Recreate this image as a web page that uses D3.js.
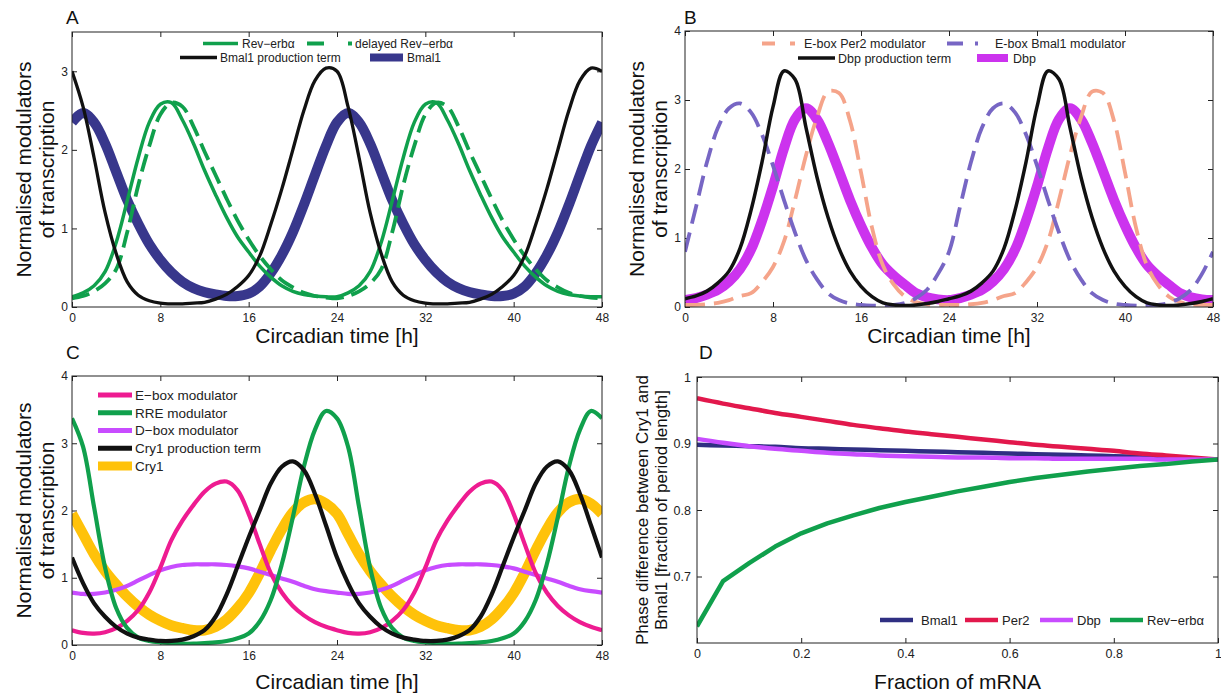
<!DOCTYPE html>
<html><head><meta charset="utf-8">
<script src="https://cdn.jsdelivr.net/npm/d3@7"></script>
<style>
body{margin:0;background:#fff}
svg{display:block}
text{font-family:"Liberation Sans",Arial,Helvetica,sans-serif}
</style>
</head><body>
<svg id="chart" width="1221" height="695"></svg>
<script>
// ---------------- DATA ----------------
const hours = [0,1,2,3,4,5,6,7,8,9,10,11,12,13,14,15,16,17,18,19,20,21,22,23,24,25,26,27,28,29,30,31,32,33,34,35,36,37,38,39,40,41,42,43,44,45,46,47,48];
const timeTicks = [0,8,16,24,32,40,48];
const yTicksA = [0,1,2,3];
const yTicksBC = [0,1,2,3,4];

// Panel A
const aRevErba = [0.13,0.18,0.27,0.45,0.82,1.35,1.9,2.35,2.58,2.6,2.38,2.08,1.74,1.43,1.14,0.89,0.7,0.52,0.38,0.27,0.2,0.16,0.14,0.13,
                  0.13,0.18,0.27,0.45,0.82,1.35,1.9,2.35,2.58,2.6,2.38,2.08,1.74,1.43,1.14,0.89,0.7,0.52,0.38,0.27,0.2,0.16,0.14,0.13,0.13];
const aDelayedRevErba = [0.11,0.14,0.2,0.3,0.48,0.95,1.55,2.05,2.45,2.6,2.55,2.3,1.98,1.68,1.38,1.1,0.86,0.65,0.48,0.34,0.25,0.18,0.14,0.12,
                  0.11,0.14,0.2,0.3,0.48,0.95,1.55,2.05,2.45,2.6,2.55,2.3,1.98,1.68,1.38,1.1,0.86,0.65,0.48,0.34,0.25,0.18,0.14,0.12,0.11];
const aBmal1Production = [3.0,2.55,1.9,1.2,0.68,0.32,0.15,0.08,0.05,0.04,0.04,0.05,0.06,0.1,0.16,0.26,0.4,0.65,1.05,1.5,2.0,2.5,2.88,3.04,
                  3.0,2.55,1.9,1.2,0.68,0.32,0.15,0.08,0.05,0.04,0.04,0.05,0.06,0.1,0.16,0.26,0.4,0.65,1.05,1.5,2.0,2.5,2.88,3.04,3.0];
const aBmal1 = [2.35,2.47,2.35,2.08,1.72,1.36,1.06,0.8,0.6,0.44,0.32,0.24,0.19,0.16,0.14,0.14,0.17,0.26,0.43,0.66,0.95,1.3,1.68,2.05,
                  2.35,2.47,2.35,2.08,1.72,1.36,1.06,0.8,0.6,0.44,0.32,0.24,0.19,0.16,0.14,0.14,0.17,0.26,0.43,0.66,0.95,1.3,1.68,2.05,2.35];

// Panel B
const bPer2Mod = [0.03,0.03,0.04,0.06,0.1,0.16,0.2,0.36,0.58,0.95,1.55,2.2,2.75,3.12,3.1,2.7,1.95,1.15,0.6,0.32,0.15,0.07,0.04,0.03,
                  0.03,0.03,0.04,0.06,0.1,0.16,0.2,0.36,0.58,0.95,1.55,2.2,2.75,3.12,3.1,2.7,1.95,1.15,0.6,0.32,0.15,0.07,0.04,0.03,0.03];
const bBmal1Mod = [0.8,1.45,2.1,2.6,2.88,2.95,2.82,2.5,2.05,1.55,1.08,0.68,0.4,0.2,0.1,0.05,0.03,0.02,0.02,0.03,0.06,0.13,0.25,0.48,
                  0.8,1.45,2.1,2.6,2.88,2.95,2.82,2.5,2.05,1.55,1.08,0.68,0.4,0.2,0.1,0.05,0.03,0.02,0.02,0.03,0.06,0.13,0.25,0.48,0.8];
const bDbpProduction = [0.12,0.16,0.23,0.35,0.52,0.85,1.4,2.1,2.9,3.42,3.3,2.6,1.88,1.3,0.85,0.52,0.3,0.15,0.06,0.03,0.02,0.03,0.05,0.08,
                  0.12,0.16,0.23,0.35,0.52,0.85,1.4,2.1,2.9,3.42,3.3,2.6,1.88,1.3,0.85,0.52,0.3,0.15,0.06,0.03,0.02,0.03,0.05,0.08,0.12];
const bDbp = [0.1,0.13,0.18,0.25,0.37,0.55,0.83,1.25,1.75,2.3,2.72,2.88,2.72,2.38,1.97,1.55,1.18,0.86,0.61,0.45,0.32,0.2,0.14,0.11,
                  0.1,0.13,0.18,0.25,0.37,0.55,0.83,1.25,1.75,2.3,2.72,2.88,2.72,2.38,1.97,1.55,1.18,0.86,0.61,0.45,0.32,0.2,0.14,0.11,0.1];

// Panel C
const cEbox = [0.22,0.18,0.17,0.19,0.25,0.36,0.52,0.78,1.15,1.56,1.85,2.08,2.28,2.4,2.43,2.3,1.95,1.5,1.07,0.78,0.58,0.44,0.34,0.27,
                  0.22,0.18,0.17,0.19,0.25,0.36,0.52,0.78,1.15,1.56,1.85,2.08,2.28,2.4,2.43,2.3,1.95,1.5,1.07,0.78,0.58,0.44,0.34,0.27,0.22];
const cRRE = [3.37,2.95,2.05,1.15,0.55,0.25,0.11,0.06,0.04,0.03,0.02,0.02,0.03,0.04,0.06,0.1,0.17,0.35,0.67,1.2,1.9,2.65,3.2,3.48,
                  3.37,2.95,2.05,1.15,0.55,0.25,0.11,0.06,0.04,0.03,0.02,0.02,0.03,0.04,0.06,0.1,0.17,0.35,0.67,1.2,1.9,2.65,3.2,3.48,3.37];
const cDbox = [0.78,0.76,0.76,0.78,0.82,0.88,0.96,1.04,1.11,1.16,1.19,1.2,1.2,1.2,1.19,1.17,1.14,1.09,1.04,0.99,0.94,0.88,0.83,0.8,
                  0.78,0.76,0.76,0.78,0.82,0.88,0.96,1.04,1.11,1.16,1.19,1.2,1.2,1.2,1.19,1.17,1.14,1.09,1.04,0.99,0.94,0.88,0.83,0.8,0.78];
const cCry1Production = [1.3,0.92,0.62,0.42,0.27,0.17,0.11,0.08,0.06,0.06,0.08,0.13,0.22,0.42,0.75,1.17,1.6,2.0,2.4,2.65,2.73,2.6,2.25,1.78,
                  1.3,0.92,0.62,0.42,0.27,0.17,0.11,0.08,0.06,0.06,0.08,0.13,0.22,0.42,0.75,1.17,1.6,2.0,2.4,2.65,2.73,2.6,2.25,1.78,1.3];
const cCry1 = [1.95,1.65,1.35,1.1,0.9,0.72,0.57,0.45,0.36,0.29,0.25,0.22,0.22,0.27,0.38,0.55,0.77,1.07,1.41,1.72,1.97,2.12,2.17,2.1,
                  1.95,1.65,1.35,1.1,0.9,0.72,0.57,0.45,0.36,0.29,0.25,0.22,0.22,0.27,0.38,0.55,0.77,1.07,1.41,1.72,1.97,2.12,2.17,2.1,1.95];

// Panel D
const mrnaFraction = [0,0.05,0.1,0.15,0.2,0.25,0.3,0.35,0.4,0.45,0.5,0.55,0.6,0.65,0.7,0.75,0.8,0.85,0.9,0.95,1];
const fracTicks = [0,0.2,0.4,0.6,0.8,1];
const phaseTicks = [0.7,0.8,0.9,1];
const dBmal1 = [0.898,0.897,0.896,0.895,0.893,0.892,0.891,0.890,0.889,0.888,0.887,0.886,0.885,0.884,0.883,0.882,0.881,0.880,0.879,0.877,0.876];
const dPer2 = [0.968,0.960,0.953,0.946,0.940,0.934,0.928,0.923,0.918,0.914,0.910,0.906,0.902,0.898,0.895,0.892,0.889,0.885,0.882,0.879,0.876];
const dDbp = [0.907,0.901,0.896,0.892,0.889,0.886,0.884,0.882,0.881,0.880,0.879,0.879,0.878,0.878,0.877,0.877,0.877,0.877,0.876,0.876,0.876];
const dRevErba = [0.625,0.693,0.72,0.745,0.765,0.78,0.792,0.803,0.812,0.82,0.828,0.835,0.842,0.848,0.853,0.858,0.862,0.866,0.869,0.873,0.876];

// ---------------- DRAW ----------------
const svg = d3.select('#chart');
const FONT = '"Liberation Sans",Arial,Helvetica,sans-serif';

function drawPanel(p) {
  const g = svg.append('g');
  const x = d3.scaleLinear().domain(p.xDomain).range([p.x0, p.x1]);
  const y = d3.scaleLinear().domain(p.yDomain).range([p.y1, p.y0]);
  const clipId = 'clip' + p.id;
  svg.append('clipPath').attr('id', clipId).append('rect')
    .attr('x', p.x0).attr('y', p.y0).attr('width', p.x1 - p.x0).attr('height', p.y1 - p.y0);

  const style = sel => {
    sel.select('.domain').remove();
    sel.selectAll('line').attr('stroke', '#222').attr('stroke-width', 1);
    sel.selectAll('text').attr('font-size', p.tickFont || 12).attr('fill', '#222').attr('font-family', FONT);
  };
  g.append('g').attr('transform', `translate(0,${p.y1})`)
    .call(d3.axisBottom(x).tickValues(p.xTicks).tickFormat(d => String(d)).tickSizeInner(-5).tickSizeOuter(0).tickPadding(6)).call(style);
  g.append('g').attr('transform', `translate(0,${p.y0})`)
    .call(d3.axisTop(x).tickValues(p.xTicks).tickFormat('').tickSizeInner(-5).tickSizeOuter(0)).call(style);
  g.append('g').attr('transform', `translate(${p.x0},0)`)
    .call(d3.axisLeft(y).tickValues(p.yTicks).tickFormat(d => String(d)).tickSizeInner(-5).tickSizeOuter(0).tickPadding(p.yPad || 4)).call(style);
  g.append('g').attr('transform', `translate(${p.x1},0)`)
    .call(d3.axisRight(y).tickValues(p.yTicks).tickFormat('').tickSizeInner(-5).tickSizeOuter(0)).call(style);

  const lines = g.append('g').attr('clip-path', `url(#${clipId})`);
  p.series.forEach(s => {
    const gen = d3.line().x((d, i) => x(p.xs[i])).y(d => y(d)).curve(s.curve || d3.curveCatmullRom);
    lines.append('path').datum(s.values)
      .attr('fill', 'none').attr('stroke', s.color).attr('stroke-width', s.width)
      .attr('stroke-dasharray', s.dash || null).attr('stroke-linejoin', 'round')
      .attr('d', gen);
  });

  g.append('rect').attr('x', p.x0).attr('y', p.y0).attr('width', p.x1 - p.x0).attr('height', p.y1 - p.y0)
    .attr('fill', 'none').attr('stroke', '#222').attr('stroke-width', 1);

  svg.append('text').attr('x', p.letterX).attr('y', p.letterY).attr('font-size', 19).attr('fill', '#111').text(p.id);

  svg.append('text').attr('x', (p.x0 + p.x1) / 2).attr('y', p.xTitleY).attr('text-anchor', 'middle')
    .attr('font-size', 21).attr('fill', '#111').text(p.xTitle);

  const cy = (p.y0 + p.y1) / 2;
  p.yTitle.forEach((t, i) => {
    svg.append('text').attr('transform', `translate(${p.yTitleX[i]},${cy}) rotate(-90)`)
      .attr('text-anchor', 'middle').attr('font-size', p.yTitleFont).attr('fill', '#111').text(t);
  });

  p.legend.forEach(l => {
    svg.append('line').attr('x1', l.x1).attr('x2', l.x2).attr('y1', l.y).attr('y2', l.y)
      .attr('stroke', l.color).attr('stroke-width', l.width).attr('stroke-dasharray', l.dash || null);
    svg.append('text').attr('x', l.tx).attr('y', l.y + l.fs * 0.36).attr('font-size', l.fs).attr('fill', '#222').text(l.label);
  });
}

const GREEN = '#10a04c', NAVY = '#38378c', SALMON = '#f5a48a', LAV = '#7766c4', MAG = '#cc33ee',
      PINK = '#ee1b91', VIOLET = '#c84cff', GOLD = '#ffc20a', RED = '#e2184c', DNAVY = '#2f2f82';

drawPanel({
  id: 'A', x0: 72, x1: 602, y0: 32, y1: 307, xDomain: [0, 48], yDomain: [0, 3.5],
  xs: hours, xTicks: timeTicks, yTicks: yTicksA,
  letterX: 66, letterY: 24, xTitle: 'Circadian time [h]', xTitleY: 343,
  yTitle: ['Normalised modulators', 'of transcription'], yTitleX: [31, 54], yTitleFont: 21,
  series: [
    {values: aBmal1, color: NAVY, width: 10},
    {values: aRevErba, color: GREEN, width: 3.5},
    {values: aDelayedRevErba, color: GREEN, width: 3.8, dash: '18,8'},
    {values: aBmal1Production, color: '#111', width: 3.3}
  ],
  legend: [
    {x1: 203, x2: 238, y: 43.5, color: GREEN, width: 3.5, tx: 242, label: 'Rev\u2212erb\u03b1', fs: 12},
    {x1: 307, x2: 352, y: 43.5, color: GREEN, width: 3.8, dash: '17,24', tx: 355, label: 'delayed Rev\u2212erb\u03b1', fs: 12},
    {x1: 180, x2: 217, y: 57.5, color: '#111', width: 3.5, tx: 220, label: 'Bmal1 production term', fs: 12},
    {x1: 370, x2: 403, y: 57.5, color: NAVY, width: 8, tx: 407, label: 'Bmal1', fs: 12}
  ]
});

drawPanel({
  id: 'B', x0: 685, x1: 1213, y0: 31, y1: 307, xDomain: [0, 48], yDomain: [0, 4],
  xs: hours, xTicks: timeTicks, yTicks: yTicksBC,
  letterX: 684, letterY: 24, xTitle: 'Circadian time [h]', xTitleY: 343,
  yTitle: ['Normalised modulators', 'of transcription'], yTitleX: [644, 667], yTitleFont: 21,
  series: [
    {values: bDbp, color: MAG, width: 10},
    {values: bPer2Mod, color: SALMON, width: 3.8, dash: '20,9'},
    {values: bBmal1Mod, color: LAV, width: 3.8, dash: '20,9'},
    {values: bDbpProduction, color: '#111', width: 3.5}
  ],
  legend: [
    {x1: 762, x2: 795, y: 43.5, color: SALMON, width: 3.8, dash: '13,15', tx: 804, label: 'E-box Per2 modulator', fs: 12.5},
    {x1: 947, x2: 978, y: 43.5, color: LAV, width: 3.8, dash: '16,12', tx: 995, label: 'E-box Bmal1 modulator', fs: 12.5},
    {x1: 798, x2: 835, y: 58, color: '#111', width: 3.5, tx: 838, label: 'Dbp production term', fs: 12.5},
    {x1: 977, x2: 1008, y: 58, color: MAG, width: 8, tx: 1013, label: 'Dbp', fs: 12.5}
  ]
});

drawPanel({
  id: 'C', x0: 72, x1: 602, y0: 376, y1: 645, xDomain: [0, 48], yDomain: [0, 4],
  xs: hours, xTicks: timeTicks, yTicks: yTicksBC,
  letterX: 66, letterY: 359, xTitle: 'Circadian time [h]', xTitleY: 689,
  yTitle: ['Normalised modulators', 'of transcription'], yTitleX: [31, 54], yTitleFont: 21,
  series: [
    {values: cCry1, color: GOLD, width: 10.5},
    {values: cDbox, color: VIOLET, width: 4.2},
    {values: cEbox, color: PINK, width: 4.2},
    {values: cRRE, color: GREEN, width: 4.2},
    {values: cCry1Production, color: '#111', width: 4.2}
  ],
  legend: [
    {x1: 98, x2: 132, y: 395, color: PINK, width: 5, tx: 135, label: 'E\u2212box modulator', fs: 13.5},
    {x1: 98, x2: 132, y: 412.7, color: GREEN, width: 5, tx: 135, label: 'RRE modulator', fs: 13.5},
    {x1: 98, x2: 132, y: 430.5, color: VIOLET, width: 5, tx: 135, label: 'D\u2212box modulator', fs: 13.5},
    {x1: 98, x2: 132, y: 448.3, color: '#111', width: 5, tx: 135, label: 'Cry1 production term', fs: 13.5},
    {x1: 98, x2: 132, y: 466, color: GOLD, width: 9, tx: 135, label: 'Cry1', fs: 13.5}
  ]
});

drawPanel({
  id: 'D', x0: 697, x1: 1218, y0: 377, y1: 643, xDomain: [0, 1], yDomain: [0.6, 1],
  xs: mrnaFraction, xTicks: fracTicks, yTicks: phaseTicks, yPad: 6, tickFont: 12.5,
  letterX: 699, letterY: 359, xTitle: 'Fraction of mRNA', xTitleY: 689,
  yTitle: ['Phase difference between Cry1 and', 'Bmal1 [fraction of period length]'], yTitleX: [648, 667], yTitleFont: 17,
  series: [
    {values: dBmal1, color: DNAVY, width: 4.5, curve: d3.curveMonotoneX},
    {values: dPer2, color: RED, width: 4.5, curve: d3.curveMonotoneX},
    {values: dDbp, color: VIOLET, width: 4.5, curve: d3.curveMonotoneX},
    {values: dRevErba, color: GREEN, width: 4.5, curve: d3.curveLinear}
  ],
  legend: [
    {x1: 880, x2: 913, y: 620, color: DNAVY, width: 4.5, tx: 921, label: 'Bmal1', fs: 13},
    {x1: 965, x2: 998, y: 620, color: RED, width: 4.5, tx: 1002, label: 'Per2', fs: 13},
    {x1: 1040, x2: 1073, y: 620, color: VIOLET, width: 4.5, tx: 1077, label: 'Dbp', fs: 13},
    {x1: 1110, x2: 1143, y: 620, color: GREEN, width: 4.5, tx: 1147, label: 'Rev\u2212erb\u03b1', fs: 13}
  ]
});
</script>
</body></html>
